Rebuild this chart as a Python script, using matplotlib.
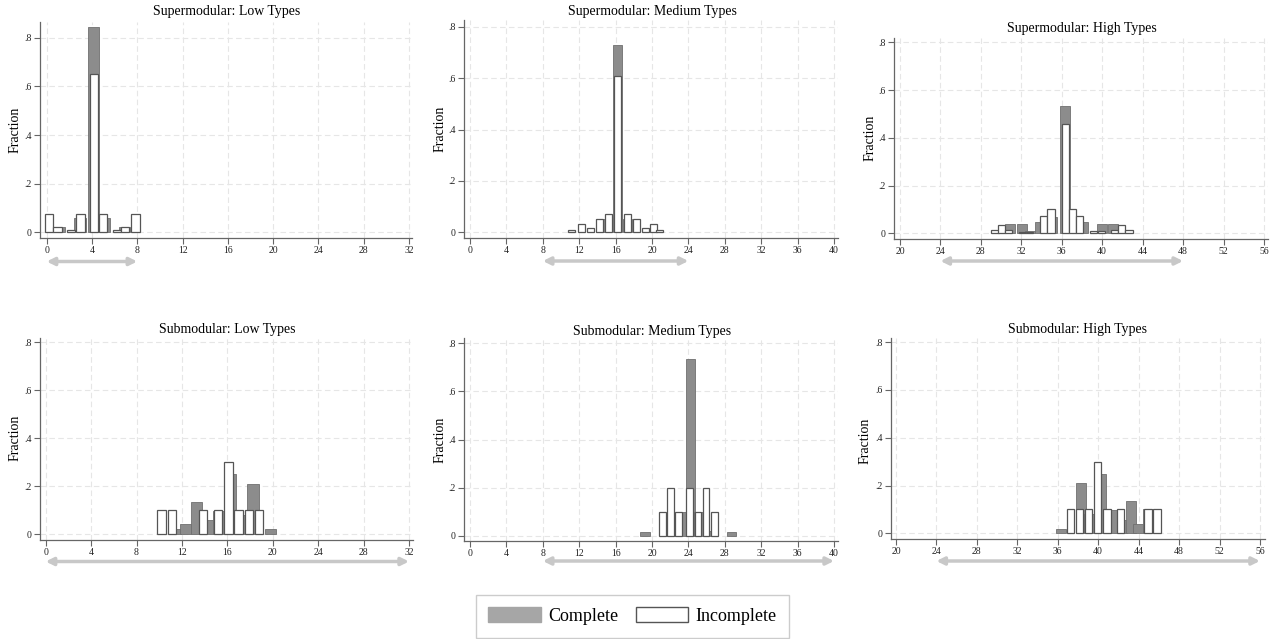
import matplotlib
matplotlib.use("Agg")
import matplotlib.pyplot as plt
from matplotlib.patches import Patch
from matplotlib.transforms import blended_transform_factory

# ---------------- data ----------------
titles = ["Supermodular: Low Types", "Supermodular: Medium Types", "Supermodular: High Types",
          "Submodular: Low Types", "Submodular: Medium Types", "Submodular: High Types"]

sup_low_complete_x = [1.1, 2.95, 4.12, 5.1, 6.85]
sup_low_complete_y = [0.02, 0.06, 0.845, 0.06, 0.02]
sup_low_incomplete_x = [0.19, 0.96, 2.15, 2.98, 4.18, 4.99, 6.2, 6.94, 7.84]
sup_low_incomplete_y = [0.075, 0.02, 0.01, 0.075, 0.65, 0.075, 0.01, 0.02, 0.075]

sup_med_complete_x = [14.3, 16.25, 17.35]
sup_med_complete_y = [0.05, 0.73, 0.05]
sup_med_incomplete_x = [11.2, 12.25, 13.2, 14.23, 15.25, 16.26, 17.25, 18.25, 19.25, 20.2, 20.85]
sup_med_incomplete_y = [0.008, 0.034, 0.015, 0.052, 0.073, 0.61, 0.073, 0.052, 0.015, 0.034, 0.008]

sup_high_complete_x = [30.85, 32.07, 32.86, 33.86, 35.07, 36.3, 38.05, 39.94, 41.11]
sup_high_complete_y = [0.039, 0.039, 0.011, 0.046, 0.067, 0.533, 0.046, 0.039, 0.039]
sup_high_incomplete_x = [29.4, 30.05, 30.71, 32.13, 32.83, 34.19, 34.94, 36.36, 37.08, 37.78,
                         39.11, 39.92, 41.25, 41.95, 42.65]
sup_high_incomplete_y = [0.015, 0.034, 0.015, 0.006, 0.006, 0.071, 0.1, 0.459, 0.1, 0.071,
                         0.008, 0.008, 0.015, 0.034, 0.015]

sub_low_complete_x = [11.4, 12.3, 13.3, 14.3, 15.2, 16.3, 17.3, 18.27, 19.78]
sub_low_complete_y = [0.02, 0.04, 0.135, 0.057, 0.097, 0.25, 0.078, 0.21, 0.02]
sub_low_incomplete_x = [10.2, 11.12, 13.85, 15.17, 16.08, 16.97, 17.9, 18.8]
sub_low_incomplete_y = [0.1, 0.1, 0.1, 0.1, 0.3, 0.1, 0.1, 0.1]

sub_med_complete_x = [19.23, 22.0, 23.28, 24.22, 25.1, 26.2, 28.77]
sub_med_complete_y = [0.017, 0.02, 0.097, 0.734, 0.097, 0.02, 0.017]
sub_med_incomplete_x = [21.13, 22.02, 22.93, 24.14, 25.03, 25.93, 26.85]
sub_med_incomplete_y = [0.1, 0.2, 0.1, 0.2, 0.1, 0.2, 0.1]

sub_high_complete_x = [36.3, 38.29, 39.08, 40.24, 41.33, 42.32, 43.25, 43.96, 44.95]
sub_high_complete_y = [0.019, 0.21, 0.08, 0.25, 0.097, 0.057, 0.135, 0.04, 0.1]
sub_high_incomplete_x = [37.24, 38.17, 39.02, 39.92, 40.87, 42.19, 44.92, 45.82]
sub_high_incomplete_y = [0.1, 0.1, 0.1, 0.3, 0.1, 0.1, 0.1, 0.1]

arrow_ranges = [(0, 8), (8, 24), (24, 48), (0, 32), (8, 40), (24, 56)]
xtick_sets = [list(range(0, 33, 4)), list(range(0, 41, 4)), list(range(20, 57, 4)),
              list(range(0, 33, 4)), list(range(0, 41, 4)), list(range(20, 57, 4))]
yticks = [0, 0.2, 0.4, 0.6, 0.8]
legend_labels = ["Complete", "Incomplete"]

series = [
    (sup_low_complete_x, sup_low_complete_y, sup_low_incomplete_x, sup_low_incomplete_y),
    (sup_med_complete_x, sup_med_complete_y, sup_med_incomplete_x, sup_med_incomplete_y),
    (sup_high_complete_x, sup_high_complete_y, sup_high_incomplete_x, sup_high_incomplete_y),
    (sub_low_complete_x, sub_low_complete_y, sub_low_incomplete_x, sub_low_incomplete_y),
    (sub_med_complete_x, sub_med_complete_y, sub_med_incomplete_x, sub_med_incomplete_y),
    (sub_high_complete_x, sub_high_complete_y, sub_high_incomplete_x, sub_high_incomplete_y),
]

# ---------------- layout (pixels) ----------------
W, H = 1276, 639
layout = [
    # left, top, right, bottom, xlim, ylim, title (cx, cy), ylabel x, arrow y, white width
    dict(box=(40, 21.7, 412, 238), xlim=(-0.59, 32.27), ylim=(-0.0234, 0.866),
         title=(226.5, 12), ylab=(15, 130), arrow_y=261.5, wi=0.74),
    dict(box=(464.3, 20, 838.3, 238), xlim=(-0.63, 40.47), ylim=(-0.022, 0.826),
         title=(652, 11.5), ylab=(440, 129), arrow_y=261, wi=0.77),
    dict(box=(894.3, 37.7, 1268, 238.7), xlim=(19.44, 56.4), ylim=(-0.0226, 0.819),
         title=(1082, 28.5), ylab=(870, 138), arrow_y=261, wi=0.71),
    dict(box=(40, 337.7, 413, 540), xlim=(-0.5, 32.35), ylim=(-0.025, 0.819),
         title=(227, 329.5), ylab=(15, 438), arrow_y=561.5, wi=0.75),
    dict(box=(464.3, 338.3, 838.3, 541), xlim=(-0.63, 40.47), ylim=(-0.022, 0.821),
         title=(652, 331), ylab=(440, 440), arrow_y=561, wi=0.72),
    dict(box=(890.7, 337.7, 1265, 539), xlim=(19.48, 56.5), ylim=(-0.024, 0.819),
         title=(1078, 329.5), ylab=(865, 441), arrow_y=561, wi=0.73),
]

plt.rcParams["font.family"] = ["Liberation Serif", "DejaVu Serif"]
fig = plt.figure(figsize=(W / 100, H / 100), dpi=100)

GRAY = "#8c8c8c"
GRAY_EDGE = "#6f6f6f"
AXIS_COL = "#666666"


def yfmt(v):
    if abs(v) < 1e-9:
        return "0"
    return ("%.1f" % v).lstrip("0")


for i, lay in enumerate(layout):
    l, t, r, b = lay["box"]
    ax = fig.add_axes([l / W, 1 - b / H, (r - l) / W, (b - t) / H])
    cx, cy, ix, iy = series[i]
    ax.bar(cx, cy, width=1.0, color=GRAY, edgecolor=GRAY_EDGE, linewidth=0.6, zorder=2)
    ax.bar(ix, iy, width=lay["wi"], color="white", edgecolor="#555555", linewidth=0.9, zorder=3)

    ax.set_xlim(*lay["xlim"])
    ax.set_ylim(*lay["ylim"])
    ax.set_xticks(xtick_sets[i])
    ax.set_xticklabels([str(v) for v in xtick_sets[i]])
    ax.set_yticks(yticks)
    ax.set_yticklabels([yfmt(v) for v in yticks])
    ax.tick_params(direction="out", length=4, width=0.8, color=AXIS_COL,
                   labelsize=7, pad=2, labelcolor="#222222")
    for s in ["top", "right"]:
        ax.spines[s].set_visible(False)
    for s in ["left", "bottom"]:
        ax.spines[s].set_color(AXIS_COL)
        ax.spines[s].set_linewidth(0.9)
    ax.set_axisbelow(True)
    ax.grid(True, color="#e6e6e6", linestyle=(0, (5, 3)), linewidth=0.8)

    # range arrow below the axis
    trans = blended_transform_factory(ax.transData, ax.transAxes)
    ya = -(lay["arrow_y"] - b) / (b - t)
    x0, x1 = arrow_ranges[i]
    ax.annotate("", xy=(x1, ya), xytext=(x0, ya), xycoords=trans, textcoords=trans,
                arrowprops=dict(arrowstyle="<|-|>", color="#c8c8c8", lw=2.5,
                                shrinkA=0, shrinkB=0, mutation_scale=11),
                annotation_clip=False)

    tx, ty = lay["title"]
    fig.text(tx / W, 1 - ty / H, titles[i], ha="center", va="center", fontsize=10)
    lx, lyy = lay["ylab"]
    fig.text(lx / W, 1 - lyy / H, "Fraction", ha="center", va="center",
             rotation=90, fontsize=10)

handles = [Patch(facecolor="#a6a6a6", edgecolor="#a6a6a6"),
           Patch(facecolor="white", edgecolor="#555555", linewidth=1.0)]
leg = fig.legend(handles=handles, labels=legend_labels, loc="center",
                 bbox_to_anchor=(632.5 / W, 1 - 616 / H), ncol=2, fontsize=13,
                 frameon=True, fancybox=False, edgecolor="#c0c0c0",
                 handlelength=2.9, handleheight=0.9, handletextpad=0.4,
                 columnspacing=1.0, borderpad=0.7)
leg.get_frame().set_linewidth(1.0)

fig.savefig("out.png", dpi=100, facecolor="white")
